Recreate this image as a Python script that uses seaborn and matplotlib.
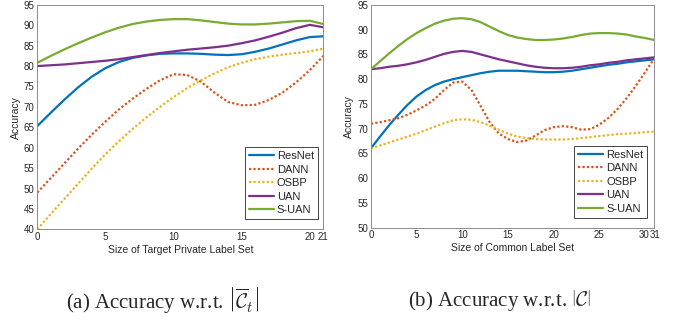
"""Accuracy vs. label-set size, two panels"""
import matplotlib
matplotlib.use("Agg")
import matplotlib.pyplot as plt
import matplotlib.transforms as mtransforms
import numpy as np
import pandas as pd
import seaborn as sns

methods = ["ResNet", "DANN", "OSBP", "UAN", "S-UAN"]
colors = ["#0072BD", "#D95319", "#EDB120", "#7E2F8E", "#77AC30"]

# panel (a): size of target private label set
private_size = list(range(0, 22))
a_resnet = [65.3, 68.6, 71.8, 74.8, 77.4, 79.5, 81.0, 82.0, 82.6, 83.0, 83.1,
            83.1, 83.0, 82.8, 82.7, 82.9, 83.5, 84.3, 85.3, 86.3, 87.1, 87.3]
a_dann = [49.0, 52.6, 56.2, 59.8, 63.2, 66.4, 69.4, 72.0, 74.4, 76.5, 78.0,
          77.8, 76.2, 73.5, 71.2, 70.4, 70.5, 71.7, 73.5, 76.0, 79.0, 82.5]
a_osbp = [40.0, 43.8, 47.5, 51.2, 54.9, 58.4, 61.6, 64.6, 67.4, 70.0, 72.4,
          74.6, 76.5, 78.2, 79.7, 80.8, 81.7, 82.3, 82.8, 83.2, 83.6, 84.3]
a_uan = [80.0, 80.2, 80.4, 80.7, 81.0, 81.3, 81.7, 82.2, 82.7, 83.2, 83.6,
         84.0, 84.3, 84.6, 85.0, 85.6, 86.3, 87.2, 88.2, 89.3, 90.1, 89.5]
a_suan = [80.8, 82.5, 84.1, 85.6, 87.0, 88.3, 89.4, 90.3, 90.9, 91.3, 91.5,
          91.5, 91.2, 90.8, 90.4, 90.2, 90.2, 90.4, 90.7, 91.0, 91.1, 90.3]

# panel (b): size of common label set
common_size = list(range(0, 32))
b_resnet = [66.0, 68.4, 70.7, 72.8, 74.8, 76.5, 77.8, 78.8, 79.5, 80.0, 80.4,
            80.8, 81.2, 81.5, 81.7, 81.7, 81.7, 81.6, 81.5, 81.4, 81.4, 81.5,
            81.7, 82.0, 82.3, 82.6, 82.9, 83.1, 83.4, 83.6, 83.8, 84.0]
b_dann = [71.0, 71.3, 71.7, 72.1, 72.8, 73.7, 74.7, 76.0, 77.8, 79.3, 79.5,
          77.8, 74.6, 71.3, 69.0, 67.9, 67.3, 67.6, 68.6, 69.7, 70.3, 70.5,
          70.3, 69.8, 69.9, 70.8, 72.2, 74.0, 76.2, 78.7, 81.4, 84.2]
b_osbp = [66.0, 66.6, 67.2, 67.8, 68.4, 69.0, 69.7, 70.4, 71.1, 71.7, 71.9,
          71.8, 71.3, 70.6, 69.8, 69.0, 68.4, 68.1, 67.9, 67.8, 67.8, 67.8,
          67.9, 68.1, 68.3, 68.5, 68.7, 68.9, 69.0, 69.1, 69.3, 69.4]
b_uan = [82.0, 82.2, 82.5, 82.7, 83.0, 83.4, 83.9, 84.5, 85.1, 85.5, 85.7,
         85.5, 85.0, 84.5, 84.0, 83.6, 83.2, 82.8, 82.5, 82.3, 82.2, 82.2,
         82.3, 82.5, 82.8, 83.0, 83.3, 83.5, 83.8, 84.0, 84.2, 84.4]
b_suan = [82.0, 83.6, 85.2, 86.7, 88.1, 89.3, 90.3, 91.2, 91.8, 92.2, 92.3,
          92.1, 91.5, 90.6, 89.7, 88.9, 88.4, 88.1, 87.9, 87.9, 88.0, 88.2,
          88.5, 88.9, 89.2, 89.3, 89.3, 89.2, 89.0, 88.6, 88.3, 87.9]

a_xticks = [0, 5, 10, 15, 20, 21]
b_xticks = [0, 5, 10, 15, 20, 25, 30, 31]


def long_frame(x, series):
    parts = [pd.DataFrame({"x": x, "Accuracy": v, "Method": m})
             for m, v in zip(methods, series)]
    return pd.concat(parts, ignore_index=True)


df_a = long_frame(private_size, [a_resnet, a_dann, a_osbp, a_uan, a_suan])
df_b = long_frame(common_size, [b_resnet, b_dann, b_osbp, b_uan, b_suan])

sns.set_style("white")
plt.rcParams["font.family"] = ["Liberation Sans", "DejaVu Sans"]
plt.rcParams["mathtext.fontset"] = "cm"

palette = dict(zip(methods, colors))
dashes = {"ResNet": "", "DANN": (1, 1), "OSBP": (1, 1), "UAN": "", "S-UAN": ""}

fig = plt.figure(figsize=(6.78, 3.23), dpi=100)
ax_a = fig.add_axes([0.055, 0.29, 0.422, 0.695])
ax_b = fig.add_axes([0.547, 0.295, 0.418, 0.69])

panels = [
    (ax_a, df_a, (0, 21), (40, 95), a_xticks, np.arange(40, 96, 5),
     "Size of Target Private Label Set", (0.981, 0.045)),
    (ax_b, df_b, (0, 31), (50, 95), b_xticks, np.arange(50, 96, 5),
     "Size of Common Label Set", (0.975, 0.045)),
]

for ax, df, xlim, ylim, xt, yt, xlabel, anchor in panels:
    sns.lineplot(data=df, x="x", y="Accuracy", hue="Method", style="Method",
                 palette=palette, dashes=dashes, linewidth=1.6, ax=ax)
    ax.set_xlim(*xlim)
    ax.set_ylim(*ylim)
    ax.set_xticks(xt)
    ax.set_yticks(yt)
    ax.set_xlabel(xlabel, fontsize=7.5, color="#262626", labelpad=2)
    ax.set_ylabel("Accuracy", fontsize=7.5, color="#262626", labelpad=2)
    ax.tick_params(direction="in", length=2.5, width=0.5, labelsize=7,
                   colors="#262626", pad=2)
    for s in ax.spines.values():
        s.set_color("#8c8c8c")
        s.set_linewidth(0.7)
    sns.move_legend(ax, "lower right", bbox_to_anchor=anchor, title=None,
                    fontsize=8, frameon=True, fancybox=False,
                    edgecolor="#262626", framealpha=1, handlelength=2.3,
                    handletextpad=0.25, labelspacing=0.32, borderpad=0.35,
                    borderaxespad=0)
    ax.get_legend().get_frame().set_linewidth(0.6)

# the last two ticks on panel (b) sit close together, as in the original
labels_b = ax_b.get_xticklabels()
labels_b[-2].set_horizontalalignment("right")
labels_b[-2].set_transform(labels_b[-2].get_transform() + mtransforms.ScaledTranslation(4.5 / 100, 0, fig.dpi_scale_trans))
labels_b[-1].set_horizontalalignment("left")
labels_b[-1].set_transform(labels_b[-1].get_transform() + mtransforms.ScaledTranslation(-4.5 / 100, 0, fig.dpi_scale_trans))

fig.text(0.24, 0.07, r"(a) Accuracy w.r.t. $\left|\overline{\mathcal{C}}_t\right|$",
         ha="center", va="center", fontsize=15, family="Liberation Serif")
fig.text(0.737, 0.07, r"(b) Accuracy w.r.t. $\left|\mathcal{C}\right|$",
         ha="center", va="center", fontsize=15, family="Liberation Serif")

fig.savefig("out.png", dpi=100)
